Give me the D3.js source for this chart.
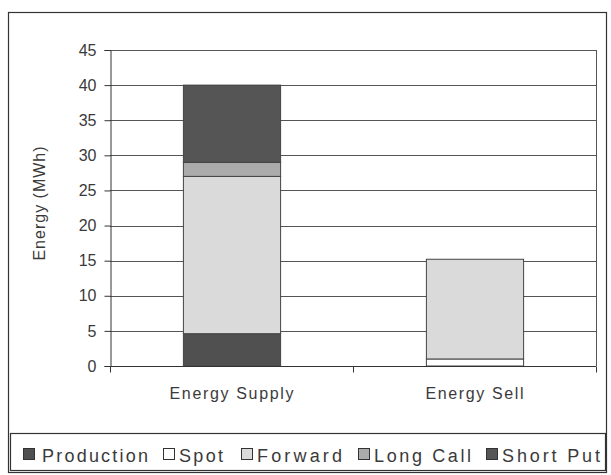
<!DOCTYPE html>
<html>
<head>
<meta charset="utf-8">
<script src="https://cdn.jsdelivr.net/npm/d3@7"></script>
<style>
  body { margin: 0; background: #fff; }
  svg { display: block; }
  text { font-family: "Liberation Sans", Arial, sans-serif; fill: #3a3a3a; }
</style>
</head>
<body>
<svg id="chart" width="611" height="475"></svg>
<script>
// categories and series (MWh)
var categories = ["Energy Supply", "Energy Sell"];
var seriesNames = ["Production", "Spot", "Forward", "Long Call", "Short Put"];
var production = [4.6, 0];
var spot = [0, 1];
var forward = [22.4, 14.2];
var longCall = [2, 0];
var shortPut = [11, 0];
var yTicks = [0, 5, 10, 15, 20, 25, 30, 35, 40, 45];

var colors = ["#505050", "#ffffff", "#dadada", "#ababab", "#555555"];

var svg = d3.select("#chart");
var margin = {left: 110, right: 15, top: 50, bottom: 109};
var width = 611 - margin.left - margin.right,
    height = 475 - margin.top - margin.bottom;

// outer frame
svg.append("rect").attr("x", 8.5).attr("y", 12.5).attr("width", 598).attr("height", 460)
   .attr("fill", "none").attr("stroke", "#333").attr("stroke-width", 1.2);

var g = svg.append("g").attr("transform", "translate(" + margin.left + "," + margin.top + ")");

var x = d3.scaleBand().domain(categories).range([0, width]).paddingInner(0.6).paddingOuter(0.3);
var xb = d3.scaleBand().domain(categories).range([0, width]);
var y = d3.scaleLinear().domain([0, 45]).range([height, 0]);

// gridlines
g.selectAll(".grid").data(yTicks.slice(1)).enter().append("line")
  .attr("x1", 0).attr("x2", width)
  .attr("y1", d => Math.round(y(d)) + 0.5).attr("y2", d => Math.round(y(d)) + 0.5)
  .attr("stroke", "#555").attr("stroke-width", 1);
// plot right border
g.append("line").attr("x1", width + 0.5).attr("x2", width + 0.5).attr("y1", 0).attr("y2", height)
  .attr("stroke", "#555");

// stacked bars
var table = categories.map(function(c, i) {
  return {cat: c, "Production": production[i], "Spot": spot[i], "Forward": forward[i],
          "Long Call": longCall[i], "Short Put": shortPut[i]};
});
var stack = d3.stack().keys(seriesNames)(table);
g.selectAll(".layer").data(stack).enter().append("g")
  .attr("fill", (d, i) => colors[i])
  .selectAll("rect").data(d => d.filter(p => p[1] > p[0])).enter().append("rect")
  .attr("x", d => x(d.data.cat) + 0.5)
  .attr("width", x.bandwidth())
  .attr("y", d => y(d[1]))
  .attr("height", d => y(d[0]) - y(d[1]))
  .attr("stroke", "#444").attr("stroke-width", 1);

// y axis
var yAxis = d3.axisLeft(y).tickValues(yTicks).tickSize(6).tickPadding(8);
var ya = g.append("g").attr("transform", "translate(0.5,0)").call(yAxis);
ya.selectAll("text").style("font-size", "16px").style("font-family", "'Liberation Sans', Arial, sans-serif")
  .attr("fill", "#444");
ya.selectAll("line,path").attr("stroke", "#333");

// x axis
var xAxis = g.append("g").attr("transform", "translate(0," + (height + 0.5) + ")");
xAxis.append("line").attr("x1", 0).attr("x2", width).attr("stroke", "#333");
xAxis.selectAll(".tick").data([0].concat(categories.map(c => xb(c) + xb.bandwidth())))
  .enter().append("line").attr("x1", d => d + 0.5).attr("x2", d => d + 0.5)
  .attr("y1", 0).attr("y2", 6).attr("stroke", "#333");
var xLabelLen = [124, 98];
xAxis.selectAll(".lbl").data(categories).enter().append("text")
  .attr("x", (d, i) => xb(d) + xb.bandwidth() / 2 - xLabelLen[i] / 2).attr("y", 32)
  .attr("textLength", (d, i) => xLabelLen[i]).attr("lengthAdjust", "spacing")
  .style("font-size", "16px").text(d => d);

// y label
svg.append("text").attr("transform", "translate(45," + 203 + ") rotate(-90)")
  .attr("text-anchor", "middle").style("font-size", "16px").style("letter-spacing", "1px")
  .text("Energy (MWh)");

// legend
svg.append("rect").attr("x", 10.5).attr("y", 433.5).attr("width", 595).attr("height", 37)
  .attr("fill", "#fff").attr("stroke", "#333").attr("stroke-width", 1.2);
var legendX = [23, 163, 241, 358, 486];
var legendLen = [106, 44, 85, 97, 98];
var lg = svg.selectAll(".leg").data(seriesNames).enter().append("g")
  .attr("transform", (d, i) => "translate(" + legendX[i] + ",448)");
lg.append("rect").attr("x", 0.5).attr("y", 0.5).attr("width", 11).attr("height", 11)
  .attr("fill", (d, i) => colors[i]).attr("stroke", "#333");
lg.append("text").attr("x", (d, i) => i === 0 ? 19 : 16).attr("y", 14).style("font-size", "18px")
  .attr("textLength", (d, i) => legendLen[i]).attr("lengthAdjust", "spacing").text(d => d);
</script>
</body>
</html>
